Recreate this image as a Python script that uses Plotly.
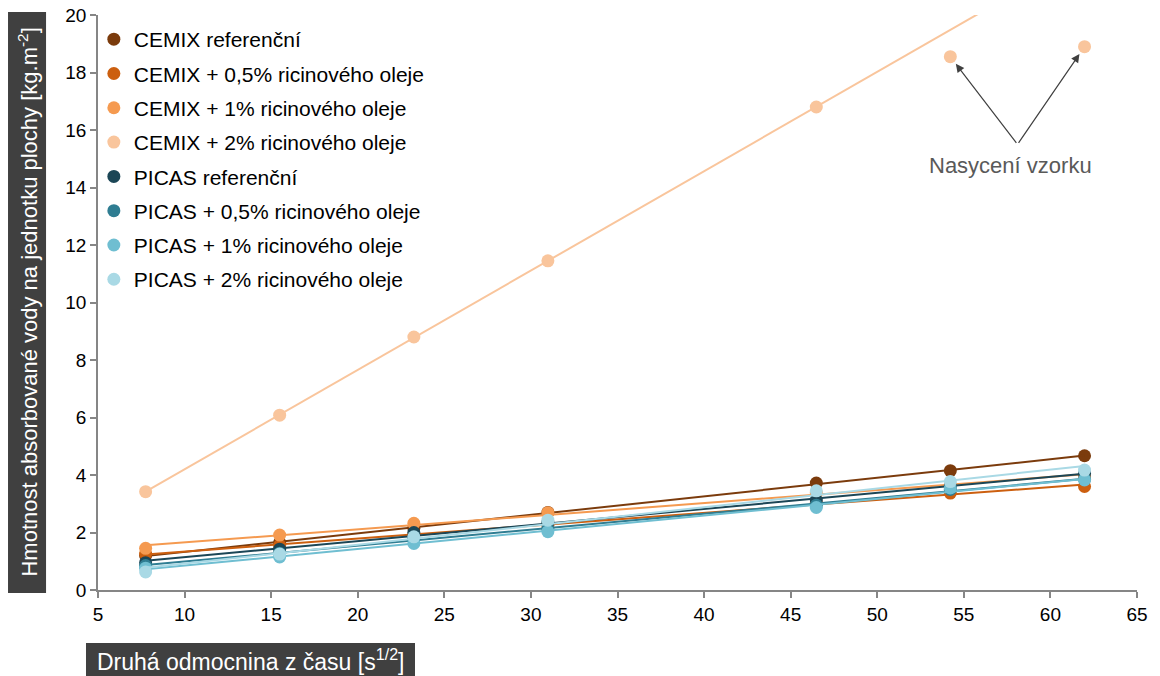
import numpy as np
import plotly.graph_objects as go

# ---- data ----
x_vals = [7.75, 15.49, 23.24, 30.98, 46.48, 54.22, 61.97]

series_names = [
    "CEMIX referenční",
    "CEMIX + 0,5% ricinového oleje",
    "CEMIX + 1% ricinového oleje",
    "CEMIX + 2% ricinového oleje",
    "PICAS referenční",
    "PICAS + 0,5% ricinového oleje",
    "PICAS + 1% ricinového oleje",
    "PICAS + 2% ricinového oleje",
]

cemix_ref = [1.20, 1.65, 2.15, 2.70, 3.72, 4.15, 4.67]
cemix_05 = [1.25, 1.55, 1.95, 2.25, 3.02, 3.37, 3.60]
cemix_1 = [1.45, 1.91, 2.32, 2.69, 3.37, 3.65, 3.95]
cemix_2 = [3.42, 6.08, 8.80, 11.45, 16.80]
cemix_2_saturated = [18.55, 18.90]
picas_ref = [0.95, 1.42, 2.00, 2.35, 3.13, 3.60, 4.05]
picas_05 = [0.85, 1.28, 1.80, 2.12, 2.95, 3.50, 3.85]
picas_1 = [0.76, 1.15, 1.62, 2.03, 2.87, 3.55, 3.83]
picas_2 = [0.63, 1.25, 1.85, 2.43, 3.45, 3.77, 4.17]

series_values = [cemix_ref, cemix_05, cemix_1, cemix_2,
                 picas_ref, picas_05, picas_1, picas_2]

colors = ["#7B3B0C", "#CC5F0F", "#F59A50", "#F9C59C",
          "#1B4656", "#2F7D92", "#6FBED1", "#A9D9E5"]

x_ticks = list(range(5, 70, 5))
y_ticks = list(range(0, 22, 2))

saturation_label = "Nasycení vzorku"
x_title = "Druhá odmocnina z času [s<sup>1/2</sup>]"
y_title = "Hmotnost absorbované vody na jednotku plochy [kg.m<sup>-2</sup>]"

FONT = "Liberation Sans, Arial, sans-serif"

fig = go.Figure()

for i, (name, vals, col) in enumerate(zip(series_names, series_values, colors)):
    xs = x_vals[:len(vals)]
    # linear trendline
    k, q = np.polyfit(xs, vals, 1)
    xl = np.array([x_vals[0], x_vals[-1]])
    fig.add_trace(go.Scatter(x=xs, y=vals, mode="markers", name=name,
                             legendgroup=f"g{i}",
                             marker=dict(color=col, size=13),
                             showlegend=True))
    fig.add_trace(go.Scatter(x=xl, y=k * xl + q, mode="lines",
                             legendgroup=f"g{i}",
                             line=dict(color=col, width=2),
                             showlegend=False, hoverinfo="skip"))

# saturated points of CEMIX + 2%
sat_x = x_vals[5:7]
fig.add_trace(go.Scatter(x=sat_x, y=cemix_2_saturated, mode="markers",
                         marker=dict(color=colors[3], size=13),
                         legendgroup="g3", showlegend=False))

# arrows to saturated points
tail_x, tail_y = 58.1, 15.5
for sx, sy in zip(sat_x, cemix_2_saturated):
    fig.add_annotation(x=sx, y=sy, ax=tail_x, ay=tail_y, axref="x", ayref="y",
                       xref="x", yref="y", text="", showarrow=True,
                       arrowhead=2, arrowsize=1.4, arrowwidth=1.2,
                       arrowcolor="#404040", standoff=9)
fig.add_annotation(x=tail_x, y=tail_y, xref="x", yref="y",
                   text=saturation_label, showarrow=False, yanchor="top",
                   xanchor="center", yshift=-7, xshift=-7,
                   font=dict(family=FONT, size=22, color="#595959"))

# axis title boxes
fig.add_shape(type="rect", xref="paper", yref="paper",
              x0=-0.0866, x1=-0.050, y0=-0.0052, y1=1.0052,
              fillcolor="#404040", line=dict(width=0), layer="above")
fig.add_annotation(xref="paper", yref="paper", x=-0.0683, y=0.5,
                   xanchor="center", yanchor="middle",
                   text=y_title, textangle=-90, showarrow=False,
                   font=dict(family=FONT, size=22, color="white"))
fig.add_shape(type="rect", xref="paper", yref="paper",
              x0=-0.01155, x1=0.3051, y0=-0.1496, y1=-0.0922,
              fillcolor="#404040", line=dict(width=0), layer="above")
fig.add_annotation(xref="paper", yref="paper", x=-0.0029, y=-0.1217,
                   xanchor="left", yanchor="middle", text=x_title,
                   showarrow=False,
                   font=dict(family=FONT, size=23, color="white"))

# page body has an 8px margin: shrink the figure so that it fits the window
fig.update_layout(
    template="none",
    width=1152, height=668,
    margin=dict(l=90, r=23, t=7, b=86, autoexpand=False),
    paper_bgcolor="white", plot_bgcolor="white",
    font=dict(family=FONT, size=19, color="black"),
    legend=dict(x=-0.004, y=0.993, xanchor="left", yanchor="top",
                bgcolor="rgba(0,0,0,0)", font=dict(size=21),
                tracegroupgap=4, traceorder="grouped"),
    showlegend=True,
)
fig.update_xaxes(range=[5, 65], tickvals=x_ticks, showgrid=False,
                 zeroline=False, showline=True, linecolor="#868686",
                 linewidth=1.5, ticks="outside", tickcolor="#868686",
                 ticklen=6, tickwidth=1.5, automargin=False,
                 ticklabeloverflow="allow")
fig.update_yaxes(range=[0, 20], tickvals=y_ticks, showgrid=False,
                 zeroline=False, showline=True, linecolor="#868686",
                 linewidth=1.5, ticks="outside", tickcolor="#868686",
                 ticklen=6, tickwidth=1.5, automargin=False,
                 ticklabeloverflow="allow")

fig.write_html("out.html")
